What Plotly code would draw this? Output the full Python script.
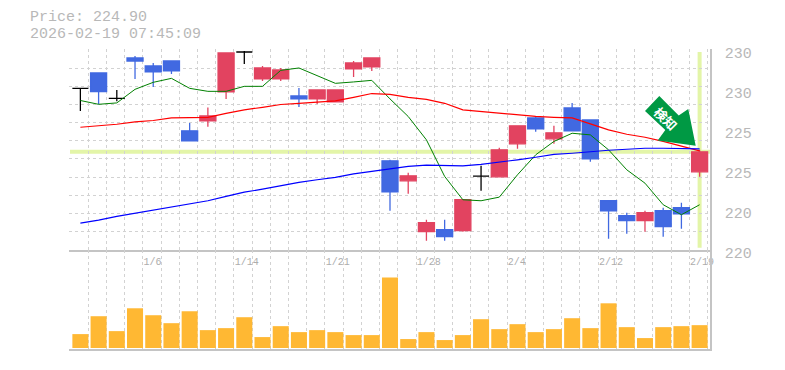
import plotly.graph_objects as go

# ---- data ----
title_price = "Price: 224.90"
title_time = "2026-02-19 07:45:09"
last_price = 224.90

dates = ["12/26", "12/29", "12/30", "1/5", "1/6", "1/7", "1/8", "1/9", "1/13", "1/14",
         "1/15", "1/16", "1/19", "1/20", "1/21", "1/22", "1/23", "1/26", "1/27", "1/28",
         "1/29", "1/30", "2/2", "2/3", "2/4", "2/5", "2/6", "2/9", "2/10", "2/12",
         "2/13", "2/16", "2/17", "2/18", "2/19"]
label_dates = ["1/6", "1/14", "1/21", "1/28", "2/4", "2/12", "2/19"]

opens = [228.08, 228.85, 227.58, 229.6, 229.2, 229.45, 225.95, 226.45, 227.9, 229.9,
         228.55, 228.55, 227.7, 227.55, 227.4, 229.05, 229.15, 224.45, 223.45, 220.9,
         221.0, 220.95, 223.68, 223.65, 225.3, 226.6, 225.55, 227.1, 226.5, 222.45,
         221.7, 221.45, 221.95, 222.1, 223.9]
closes = [228.08, 227.92, 227.58, 229.45, 228.9, 228.95, 225.45, 226.7, 229.85, 229.9,
          229.1, 229.0, 227.55, 228.0, 228.0, 229.35, 229.6, 222.9, 223.7, 221.35,
          220.65, 222.5, 223.68, 225.0, 226.2, 226.05, 225.85, 225.95, 224.55, 221.95,
          221.45, 221.85, 221.15, 221.8, 224.9]
highs = [228.08, 228.85, 228.0, 229.7, 229.35, 229.45, 226.35, 227.12, 229.85, 229.95,
         229.2, 229.1, 228.1, 228.0, 228.0, 229.45, 229.6, 224.5, 223.85, 221.5,
         221.5, 222.5, 224.2, 225.1, 226.2, 226.7, 226.2, 227.35, 226.5, 222.45,
         221.85, 221.95, 222.1, 222.35, 225.0]
lows = [226.95, 227.28, 227.43, 228.55, 228.15, 228.8, 225.45, 226.15, 227.55, 229.3,
        228.45, 228.45, 227.15, 227.3, 227.4, 228.65, 228.95, 221.95, 222.8, 220.45,
        220.45, 220.9, 222.95, 223.65, 225.05, 225.9, 225.3, 225.95, 224.4, 220.55,
        220.8, 220.9, 220.65, 221.05, 223.65]

ma_short = [227.47, 227.28, 227.35, 228.03, 228.38, 228.58, 228.08, 227.93, 227.93, 228.18,
            228.18, 228.98, 229.1, 228.73, 228.33, 228.4, 228.48, 227.55, 226.67, 225.5,
            223.67, 222.5, 222.45, 222.63, 223.75, 224.75, 225.42, 225.83, 225.75, 225.0,
            224.0, 223.33, 222.25, 221.75, 222.25]
ma_mid = [226.13, 226.2, 226.28, 226.4, 226.47, 226.6, 226.63, 226.63, 226.83, 227.0,
          227.13, 227.27, 227.33, 227.4, 227.45, 227.63, 227.82, 227.78, 227.63, 227.53,
          227.33, 227.0, 226.92, 226.83, 226.75, 226.68, 226.63, 226.6, 226.3, 226.0,
          225.78, 225.63, 225.42, 225.17, 224.95]
ma_long = [221.33, 221.48, 221.67, 221.83, 222.0, 222.13, 222.3, 222.45, 222.67, 222.88,
           223.03, 223.2, 223.37, 223.5, 223.62, 223.8, 223.93, 224.03, 224.17, 224.23,
           224.2, 224.2, 224.27, 224.37, 224.5, 224.63, 224.77, 224.83, 224.92, 224.98,
           225.03, 225.08, 225.08, 225.08, 225.05]

volumes = [14, 32, 17, 40, 33, 25, 37, 18, 20, 31, 11, 22, 16, 18, 16, 13, 13, 71,
           9, 16, 8, 13, 29, 19, 24, 16, 19, 30, 20, 45, 21, 10, 21, 22, 23]

price_ticks = [230, 228, 226, 224, 222, 220]
price_labels = ["230", "230", "225", "225", "220", "220"]

# ---- styles ----
W, H = 785, 370
L, R, T, B = 69, 710, 49, 349.5
RED, BLUE = "#E24360", "#4169E1"
GRID = "#d2d2d2"
TXT = "#b8b8b8"
XTXT = "#adadad"
HILITE = "#E3F5A8"
MONO = "Liberation Mono, DejaVu Sans Mono, monospace"

x = list(range(len(dates)))
x0, x1 = -0.625, 34.57
grid_x = [-0.57 + k * 1.0 for k in range(36)]
split = (B - 250) / (B - T)
grid_y = [220 + k * 10 / 11 for k in range(12)]

is_doji = [o == c for o, c in zip(opens, closes)]
pick = lambda arr, keep: [v if k else None for v, k in zip(arr, keep)]
not_doji = [not d for d in is_doji]

fig = go.Figure()

fig.add_shape(type="line", xref="x", yref="y", x0=-0.57, x1=x1, y0=last_price, y1=last_price,
              line=dict(color=HILITE, width=4), layer="below")
fig.add_shape(type="line", xref="x", yref="y", x0=x[-1], x1=x[-1], y0=220.1, y1=229.9,
              line=dict(color=HILITE, width=4), layer="below")

fig.add_trace(go.Candlestick(
    x=x, open=pick(opens, not_doji), high=pick(highs, not_doji),
    low=pick(lows, not_doji), close=pick(closes, not_doji),
    increasing=dict(line=dict(color=RED, width=1.3), fillcolor=RED),
    decreasing=dict(line=dict(color=BLUE, width=1.3), fillcolor=BLUE),
    xaxis="x", yaxis="y", showlegend=False))
fig.add_trace(go.Candlestick(
    x=x, open=pick(opens, is_doji), high=pick(highs, is_doji),
    low=pick(lows, is_doji), close=pick(closes, is_doji),
    increasing=dict(line=dict(color="#000000", width=1.3), fillcolor="#000000"),
    decreasing=dict(line=dict(color="#000000", width=1.3), fillcolor="#000000"),
    xaxis="x", yaxis="y", showlegend=False))

for series, color, width in [(ma_short, "#008000", 1), (ma_mid, "#FF0000", 1.2), (ma_long, "#0000FF", 1.2)]:
    fig.add_trace(go.Scatter(x=x, y=series, mode="lines", line=dict(color=color, width=width),
                             xaxis="x", yaxis="y", showlegend=False, hoverinfo="skip"))

fig.add_trace(go.Bar(x=x, y=volumes, marker=dict(color="#FFB833", line=dict(width=0)),
                     xaxis="x2", yaxis="y2", showlegend=False))


def px(xp):
    return (xp - L) / (R - L)


def py(yp):
    return 1 - (yp - T) / (B - T)


arrow_pts = [(645, 111), (659.3, 96), (678.7, 115.7), (688.3, 109), (695.7, 146), (657.7, 140.7), (665.3, 130)]
path = "M " + " L ".join(f"{px(a):.4f},{py(b):.4f}" for a, b in arrow_pts) + " Z"
fig.add_shape(type="path", xref="paper", yref="paper", path=path,
              fillcolor="#009944", line=dict(width=0), layer="above")

tick_vals = grid_x
tick_text = [dates[i] if (dates[i] in label_dates) else "" for i in range(len(dates))] + [""]

axis_common = dict(range=[x0, x1], showgrid=True, griddash="3px,3px", gridcolor=GRID, gridwidth=1,
                   zeroline=False, showline=True, linecolor="#c4c4c4", linewidth=1.5, automargin=False,
                   tickmode="array", tickvals=tick_vals, ticks="", rangeslider=dict(visible=False))

fig.update_layout(
    width=W, height=H,
    margin=dict(l=L, r=W - R, t=T, b=H - B, pad=0, autoexpand=False),
    paper_bgcolor="white", plot_bgcolor="white",
    boxmode="overlay", boxgap=0.12, boxgroupgap=0, bargap=0.12,
    hovermode=False,
    font=dict(family=MONO, color=TXT),
    xaxis=dict(axis_common, anchor="y", domain=[0, 1], ticktext=tick_text,
               ticklabelposition="outside right", ticklabeloverflow="allow",
               ticklabelstandoff=2,
               tickfont=dict(size=10, color=XTXT, family=MONO)),
    xaxis2=dict(axis_common, anchor="y2", domain=[0, 1], matches="x", ticktext=[""] * len(tick_vals),
                showticklabels=False),
    yaxis=dict(domain=[split, 1], range=[220, 230.05], side="right", anchor="x", automargin=False,
               tickmode="array", tickvals=price_ticks, ticktext=price_labels,
               tickfont=dict(size=15, color=TXT, family=MONO), ticks="", ticklen=0,
               ticklabelshift=3, ticklabelstandoff=10,
               showgrid=False, zeroline=False, showline=True, linecolor="#c4c4c4", linewidth=1.5,
               minor=dict(tickmode="array", tickvals=grid_y, showgrid=True, griddash="3px,3px",
                          gridcolor=GRID, gridwidth=1, ticks="")),
    yaxis2=dict(domain=[0, split], range=[-1, 99], side="right", anchor="x2", automargin=False,
                showticklabels=False, ticks="", showgrid=False, zeroline=False,
                showline=True, linecolor="#c4c4c4", linewidth=1.5),
    annotations=[
        dict(text=title_price, xref="paper", yref="paper", x=px(28.5), y=py(17.5), xanchor="left", yanchor="middle",
             borderpad=0, showarrow=False, font=dict(size=15, color="#b8b8b8", family=MONO)),
        dict(text=title_time, xref="paper", yref="paper", x=px(28.5), y=py(34), xanchor="left", yanchor="middle",
             borderpad=0, showarrow=False, font=dict(size=15, color="#b8b8b8", family=MONO)),
        dict(text="<b>検知</b>", xref="paper", yref="paper", x=px(666), y=py(118.5), xanchor="center", yanchor="middle",
             showarrow=False, textangle=45, font=dict(size=13, color="white", family="Noto Sans CJK JP")),
    ],
)

fig.write_html("out.html", config=dict(displayModeBar=False),
               post_script="document.body.style.margin='0';document.documentElement.style.overflow='hidden';")
